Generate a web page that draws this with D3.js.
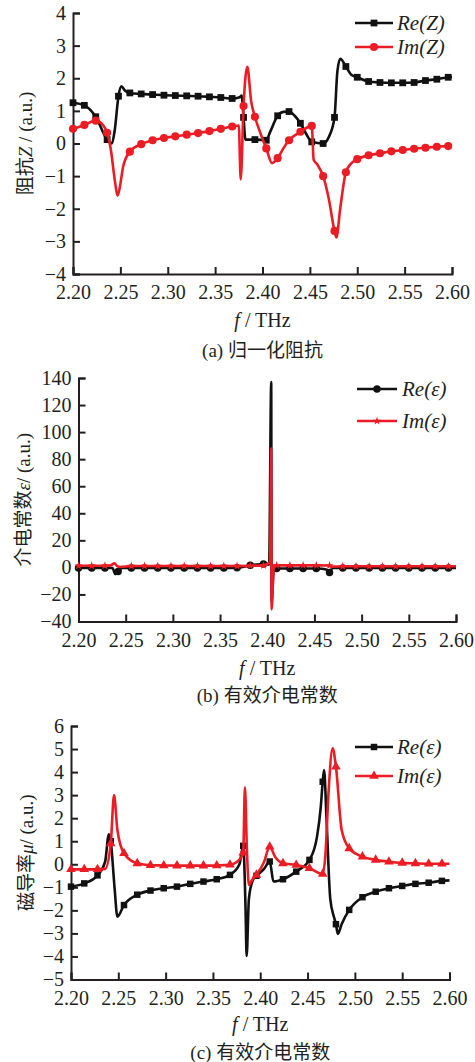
<!DOCTYPE html>
<html>
<head>
<meta charset="utf-8">
<script src="https://cdn.jsdelivr.net/npm/d3@7"></script>
<style>
body { margin: 0; background: #fff; }
text { font-family: "Liberation Serif", "Noto Sans CJK SC", serif; fill: #231f20; }
</style>
</head>
<body>
<script>
// frequency ticks shared by the three panels (THz)
var freqTicks = [2.20, 2.25, 2.30, 2.35, 2.40, 2.45, 2.50, 2.55, 2.60];

// (a) normalised impedance, [f, value]
var reZ = [[2.200,1.25],[2.212,1.17],[2.224,0.82],[2.236,0.12],[2.241,0.0],[2.244,0.4],[2.248,1.45],[2.251,1.75],[2.255,1.62],
  [2.260,1.55],[2.272,1.52],[2.284,1.5],[2.296,1.48],[2.308,1.47],[2.320,1.46],[2.332,1.45],[2.344,1.43],[2.356,1.41],[2.368,1.38],
  [2.376,1.42],[2.378,1.47],[2.380,0.8],[2.382,0.12],[2.392,0.12],[2.404,0.1],[2.408,0.35],[2.416,0.85],[2.422,0.97],[2.428,0.98],
  [2.434,0.85],[2.440,0.62],[2.446,0.3],[2.452,0.05],[2.464,0.0],[2.470,0.2],[2.476,0.8],[2.479,2.2],[2.482,2.6],[2.488,2.36],
  [2.494,2.1],[2.500,2.03],[2.512,1.9],[2.524,1.87],[2.536,1.86],[2.548,1.86],[2.560,1.87],[2.572,1.93],[2.584,1.97],[2.596,2.03],[2.600,2.04]];
var imZ = [[2.200,0.45],[2.212,0.57],[2.224,0.7],[2.232,0.55],[2.236,0.33],[2.240,-0.2],[2.244,-1.1],[2.247,-1.6],[2.249,-1.4],[2.253,-0.7],
  [2.260,-0.25],[2.272,-0.02],[2.284,0.1],[2.296,0.17],[2.308,0.22],[2.320,0.27],[2.332,0.32],[2.344,0.38],[2.356,0.45],[2.368,0.52],
  [2.375,0.55],[2.377,-1.1],[2.380,1.15],[2.384,2.35],[2.388,1.3],[2.392,0.82],[2.398,0.3],[2.404,-0.15],[2.410,-0.6],[2.416,-0.45],
  [2.422,-0.15],[2.428,0.1],[2.440,0.36],[2.452,0.54],[2.454,-0.5],[2.458,-0.65],[2.464,-1.0],[2.470,-1.7],[2.476,-2.68],[2.478,-2.88],
  [2.482,-2.0],[2.488,-0.88],[2.494,-0.6],[2.500,-0.48],[2.512,-0.36],[2.524,-0.3],[2.536,-0.24],[2.548,-0.2],[2.560,-0.16],
  [2.572,-0.13],[2.584,-0.1],[2.596,-0.08],[2.600,-0.08]];
var zTicks = [-4, -3, -2, -1, 0, 1, 2, 3, 4];

// (b) effective permittivity
var reEps = [[2.200,-0.5],[2.214,-0.5],[2.228,-0.5],[2.236,-0.5],[2.239,-5],[2.242,-3],[2.246,-0.5],[2.256,-0.5],[2.270,-0.5],
  [2.284,-0.5],[2.298,-0.5],[2.312,-0.5],[2.326,-0.5],[2.340,-0.5],[2.354,-0.5],[2.368,-0.3],[2.382,1.5],[2.396,2.5],[2.402,2],
  [2.4042,137],[2.4046,-25],[2.407,-0.5],[2.410,-0.8],[2.424,-0.8],[2.438,-0.8],[2.452,-0.8],[2.458,-1],[2.464,-2],[2.466,-3.8],
  [2.469,-0.5],[2.480,-0.5],[2.494,-0.5],[2.508,-0.5],[2.522,-0.5],[2.536,-0.5],[2.550,-0.5],[2.564,-0.5],[2.578,-0.5],[2.592,-0.5],[2.600,-0.5]];
var imEps = [[2.200,1.2],[2.214,1.2],[2.228,1.2],[2.234,1.5],[2.238,3],[2.241,1],[2.244,0.3],[2.256,1.0],[2.270,1.0],[2.284,1.0],
  [2.298,1.0],[2.312,1.0],[2.326,1.0],[2.340,1.0],[2.354,1.0],[2.368,1.0],[2.382,1.2],[2.396,1.5],[2.403,4],[2.4042,88],[2.4046,-31],
  [2.407,1],[2.410,1.5],[2.424,1.5],[2.438,1.5],[2.452,1.5],[2.466,1.4],[2.469,0.6],[2.480,0.8],[2.494,0.8],[2.508,0.8],[2.522,0.8],
  [2.536,0.8],[2.550,0.8],[2.564,0.8],[2.578,0.8],[2.592,0.8],[2.600,0.8]];
var epsTicks = [-40, -20, 0, 20, 40, 60, 80, 100, 120, 140];

// (c) effective permeability
var reMu = [[2.200,-0.97],[2.214,-0.83],[2.228,-0.48],[2.236,0.1],[2.240,1.3],[2.242,1.0],[2.246,-1.0],[2.249,-2.27],[2.256,-1.77],
  [2.270,-1.32],[2.284,-1.14],[2.298,-1.04],[2.312,-0.97],[2.326,-0.85],[2.340,-0.75],[2.354,-0.65],[2.368,-0.46],[2.378,0.0],
  [2.382,0.8],[2.3845,-2],[2.3856,-3.98],[2.388,-1.5],[2.392,-0.7],[2.396,-0.5],[2.404,-0.2],[2.410,0.12],[2.414,-0.75],[2.424,-0.65],
  [2.438,-0.32],[2.452,0.19],[2.460,1.2],[2.464,2.5],[2.466,3.58],[2.4675,4.09],[2.470,2],[2.474,-1.5],[2.478,-2.3],[2.480,-2.6],
  [2.482,-3.02],[2.486,-2.6],[2.494,-1.98],[2.508,-1.43],[2.522,-1.19],[2.536,-1.04],[2.550,-0.94],[2.564,-0.85],[2.578,-0.8],
  [2.592,-0.72],[2.600,-0.7]];
var imMu = [[2.200,-0.22],[2.214,-0.22],[2.228,-0.22],[2.236,-0.2],[2.242,0.9],[2.2455,3.0],[2.249,1.5],[2.256,0.48],[2.270,0.04],
  [2.284,-0.04],[2.298,-0.05],[2.312,-0.06],[2.326,-0.06],[2.340,-0.06],[2.354,-0.05],[2.368,-0.02],[2.378,0.2],[2.382,0.5],
  [2.3838,3.34],[2.386,0.5],[2.388,-0.9],[2.391,-0.7],[2.396,-0.46],[2.404,0.1],[2.410,0.76],[2.416,0.3],[2.424,0.04],[2.438,-0.03],
  [2.452,-0.17],[2.466,-0.42],[2.469,0.5],[2.472,3.0],[2.4765,5.03],[2.480,4.23],[2.486,1.5],[2.494,0.69],[2.508,0.33],[2.522,0.19],
  [2.536,0.11],[2.550,0.06],[2.564,0.04],[2.578,0.02],[2.592,0.02],[2.600,0.02]];
var muTicks = [-5, -4, -3, -2, -1, 0, 1, 2, 3, 4, 5, 6];

var BLACK = "#111", RED = "#ec1c24", INK = "#231f20";

var svg = d3.select("body").append("svg").attr("width", 475).attr("height", 1062);

var panels = [
  { x: [73, 452], y: [274, 13], dom: [-4, 4], ticks: zTicks, step: 0.012,
    ylab: [["阻抗", 0], ["Z", 1], [" / (a.u.)", 0]], ylx: 25,
    xl: 320, cap: "(a) 归一化阻抗", capY: 350,
    leg: { x0: 355, x1: 393, y: [23, 47], tx: 397 },
    series: [
      { d: reZ, c: BLACK, sym: d3.symbolSquare, size: 46, name: [["Re(", 1], ["Z", 1], [")", 1]] },
      { d: imZ, c: RED, sym: d3.symbolCircle, size: 52, name: [["Im(", 1], ["Z", 1], [")", 1]] }
    ] },
  { x: [78.5, 456], y: [621.5, 378], dom: [-40, 140], ticks: epsTicks, step: 0.014,
    ylab: [["介电常数", 0], ["ε", 1], ["/ (a.u.)", 0]], ylx: 23,
    xl: 668, cap: "(b) 有效介电常数", capY: 695,
    leg: { x0: 357, x1: 397, y: [389, 421], tx: 402 },
    series: [
      { d: reEps, c: BLACK, sym: d3.symbolCircle, size: 44, name: [["Re(", 1], ["ε", 1], [")", 1]] },
      { d: imEps, c: RED, sym: d3.symbolStar, size: 22, name: [["Im(", 1], ["ε", 1], [")", 1]] }
    ] },
  { x: [71, 449.5], y: [979.5, 726], dom: [-5, 6], ticks: muTicks, step: 0.014,
    ylab: [["磁导率", 0], ["μ", 1], ["/ (a.u.)", 0]], ylx: 26,
    xl: 1024, cap: "(c) 有效介电常数", capY: 1052,
    leg: { x0: 355, x1: 393, y: [747, 776], tx: 397 },
    series: [
      { d: reMu, c: BLACK, sym: d3.symbolSquare, size: 42, name: [["Re(", 1], ["ε", 1], [")", 1]] },
      { d: imMu, c: RED, sym: d3.symbolTriangle, size: 40, name: [["Im(", 1], ["ε", 1], [")", 1]] }
    ] }
];

function onGrid(f, step) {
  var k = (f - 2.2) / step;
  return Math.abs(k - Math.round(k)) < 0.02;
}

panels.forEach(function(p) {
  var x = d3.scaleLinear().domain([2.2, 2.6]).range(p.x);
  var y = d3.scaleLinear().domain(p.dom).range(p.y);
  var g = svg.append("g");

  var xa = g.append("g").attr("transform", "translate(0," + p.y[0] + ")")
    .call(d3.axisBottom(x).tickValues(freqTicks).tickFormat(d3.format(".2f")).tickSize(-7).tickPadding(11));
  var ya = g.append("g").attr("transform", "translate(" + p.x[0] + ",0)")
    .call(d3.axisLeft(y).tickValues(p.ticks).tickFormat(d3.format("d")).tickSize(-7).tickPadding(7));
  [xa, ya].forEach(function(a) {
    a.select(".domain").attr("stroke", INK).attr("stroke-width", 2);
    a.selectAll(".tick line").attr("stroke", INK).attr("stroke-width", 2);
    a.selectAll(".tick text").attr("fill", INK).style("font-size", "20px");
  });

  var line = d3.line().x(function(d) { return x(d[0]); }).y(function(d) { return y(d[1]); })
    .curve(d3.curveMonotoneX);

  p.series.forEach(function(s) {
    g.append("path").datum(s.d).attr("d", line)
      .attr("fill", "none").attr("stroke", s.c).attr("stroke-width", 2.6).attr("stroke-linejoin", "round");
    g.selectAll(null).data(s.d.filter(function(d) { return onGrid(d[0], p.step); }))
      .enter().append("path")
      .attr("transform", function(d) { return "translate(" + x(d[0]) + "," + y(d[1]) + ")"; })
      .attr("d", d3.symbol().type(s.sym).size(s.size))
      .attr("fill", s.c);
  });

  // legend
  p.series.forEach(function(s, i) {
    var ly = p.leg.y[i];
    g.append("line").attr("x1", p.leg.x0).attr("x2", p.leg.x1).attr("y1", ly).attr("y2", ly)
      .attr("stroke", s.c).attr("stroke-width", 2.6);
    g.append("path").attr("transform", "translate(" + ((p.leg.x0 + p.leg.x1) / 2) + "," + ly + ")")
      .attr("d", d3.symbol().type(s.sym).size(s.size)).attr("fill", s.c);
    var t = g.append("text").attr("x", p.leg.tx).attr("y", ly + 7).style("font-size", "21px");
    s.name.forEach(function(n) {
      t.append("tspan").text(n[0]).style("font-style", n[1] ? "italic" : "normal");
    });
  });

  // y label
  var cy = (p.y[0] + p.y[1]) / 2;
  var yl = g.append("text").attr("transform", "translate(" + p.ylx + "," + cy + ") rotate(-90)")
    .attr("text-anchor", "middle").attr("dy", "0.35em").style("font-size", "19px");
  p.ylab.forEach(function(n) {
    yl.append("tspan").text(n[0]).style("font-style", n[1] ? "italic" : "normal");
  });

  // x label and caption
  var cx = (p.x[0] + p.x[1]) / 2;
  var xl = g.append("text").attr("x", cx).attr("y", p.xl).attr("dy", "0.35em")
    .attr("text-anchor", "middle").style("font-size", "20px");
  xl.append("tspan").text("f").style("font-style", "italic");
  xl.append("tspan").text(" / THz");
  g.append("text").attr("x", cx).attr("y", p.capY).attr("dy", "0.35em")
    .attr("text-anchor", "middle").style("font-size", "19px").text(p.cap);
});
</script>
</body>
</html>
